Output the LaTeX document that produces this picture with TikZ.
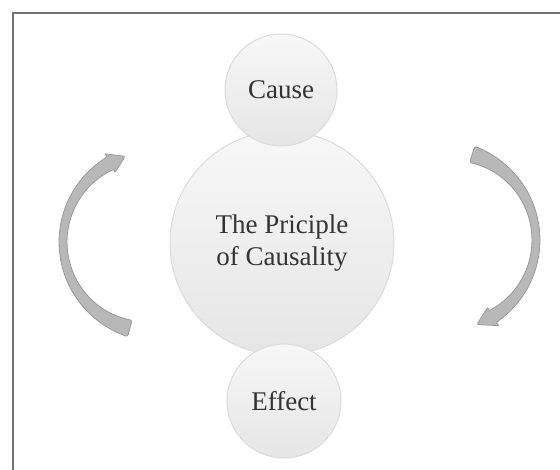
\documentclass[tikz,border=0pt]{standalone}
\usepackage{fontspec}
\setmainfont{Liberation Serif}
\begin{document}
\begin{tikzpicture}[x=1pt,y=-1pt,
  bub/.style={circle, draw=black!14, line width=1pt, top color=black!3, bottom color=black!10,
    text=black!80, font=\fontsize{27}{32}\selectfont, align=center, inner sep=0pt},
  arw/.style={draw=black!40, line width=0.8pt, fill=black!28, rounded corners=2pt}]
\useasboundingbox (0,0) rectangle (560,469);
\fill[white] (0,0) rectangle (560,469);
\draw[black!55, line width=1.6pt] (13,480) -- (13,13) -- (575,13);

\node[bub, minimum size=224pt] (center) at (282,243) {The Priciple\\of Causality};
\node[bub, minimum size=112pt] (cause) at (281,90) {Cause};
\node[bub, minimum size=114pt] (effect) at (284,401) {Effect};

% left arrow (pointing up)
\filldraw[arw]
  plot[domain=105:242, samples=40, variable=\t]
    ({153+(94+4*((\t-180)/75)^2)*cos(\t)}, {242+(94+4*((\t-180)/75)^2)*sin(\t)})
  -- ({153+101*cos(241)},{242+101*sin(241)})
  -- ({153+90*cos(252)},{242+90*sin(252)})
  -- ({153+79*cos(241)},{242+79*sin(241)})
  -- plot[domain=242:105, samples=40, variable=\t]
    ({153+(86-5*((\t-180)/75)^2)*cos(\t)}, {242+(86-5*((\t-180)/75)^2)*sin(\t)})
  -- cycle;

% right arrow (pointing down)
\filldraw[arw]
  plot[domain=-73:59, samples=40, variable=\t]
    ({446+(94+4*(\t/73)^2)*cos(\t)}, {240+(94+4*(\t/73)^2)*sin(\t)})
  -- ({446+101*cos(58)},{240+101*sin(58)})
  -- ({446+90*cos(70)},{240+90*sin(70)})
  -- ({446+79*cos(58)},{240+79*sin(58)})
  -- plot[domain=59:-73, samples=40, variable=\t]
    ({446+(86-5*(\t/73)^2)*cos(\t)}, {240+(86-5*(\t/73)^2)*sin(\t)})
  -- cycle;
\end{tikzpicture}
\end{document}
